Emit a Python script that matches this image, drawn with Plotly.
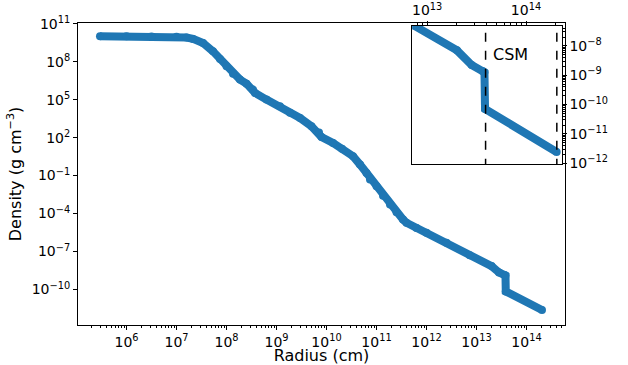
import math
import plotly.graph_objects as go

# density profile
radius = [2.95e5, 1.0e6, 3.16e6, 1.0e7, 1.58e7, 2.14e7, 3.39e7, 5.37e7, 7.41e7, 1.0e8,
          1.35e8, 1.86e8, 2.51e8, 3.39e8, 3.72e8, 6.3e8, 1.17e9, 1.86e9, 2.95e9, 5.0e9,
          7.08e9, 7.94e9, 1.35e10, 2.04e10, 3.39e10, 4.68e10, 6.3e10, 7.41e10, 1.0e11, 1.35e11,
          1.86e11, 2.51e11, 3.39e11, 3.98e11, 6.3e11, 1.0e12, 2.51e12, 7.33e12, 2.0e13, 2.82e13,
          3.63e13, 3.8e13, 3.85e13, 2.04e14]
density = [1.0e10, 1.0e10, 9.8e9, 9.3e9, 7.9e9, 6.2e9, 2.95e9, 6.5e8, 1.62e8, 4.27e7,
           1.12e7, 3.8e6, 1.82e6, 6.2e5, 3.4e5, 1.0e5, 2.95e4, 9.3e3, 3.6e3, 794,
           251, 112, 38, 12.9, 3.4, 0.74, 0.162, 4.9e-2, 1.45e-2, 2.6e-3,
           5.1e-4, 1.26e-4, 3.4e-5, 1.86e-5, 7.1e-6, 3.0e-6, 5.0e-7, 5.0e-8, 7.1e-9, 2.24e-9,
           1.41e-9, 1.26e-9, 7.1e-11, 2.4e-12]

csm_edges = [3.9e13, 2.05e14]

main_x_ticks = [1e6, 1e7, 1e8, 1e9, 1e10, 1e11, 1e12, 1e13, 1e14]
main_y_ticks = [1e11, 1e8, 1e5, 1e2, 1e-1, 1e-4, 1e-7, 1e-10]
inset_x_ticks = [1e13, 1e14]
inset_y_ticks = [1e-8, 1e-9, 1e-10, 1e-11, 1e-12]


def label(v):
    e = round(math.log10(v))
    return '10<sup>' + str(e).replace('-', '\u2212') + '</sup>'


def minors(lo, hi):
    out = []
    for k in range(lo, hi):
        for m in range(2, 10):
            out.append(m * 10.0 ** k)
    return out


blue = '#1f77b4'
fig = go.Figure()

for xa, ya in [('x', 'y'), ('x2', 'y2')]:
    fig.add_trace(go.Scatter(x=radius, y=density, xaxis=xa, yaxis=ya, mode='lines+markers',
                             line=dict(color=blue, width=8),
                             marker=dict(color=blue, size=8),
                             showlegend=False))

for edge in csm_edges:
    fig.add_trace(go.Scatter(x=[edge, edge], y=[1e-14, 1e-5], xaxis='x2', yaxis='y2',
                             mode='lines', line=dict(color='black', width=1.5, dash='dash'),
                             showlegend=False))

axis_common = dict(type='log', showline=True, linecolor='black', linewidth=1,
                   ticks='outside', ticklen=4, tickwidth=1, tickcolor='black',
                   showgrid=False, zeroline=False, tickmode='array', automargin=False,
                   tickfont=dict(size=14, color='black'))

fig.update_layout(
    width=628, height=365,
    margin=dict(l=78, r=63, t=23, b=40),
    plot_bgcolor='white', paper_bgcolor='white',
    font=dict(family='DejaVu Sans', color='black'),
    xaxis=dict(axis_common, range=[5.03, 14.77], mirror=True,
               tickvals=main_x_ticks, ticktext=[label(v) for v in main_x_ticks],
               minor=dict(tickvals=minors(5, 15), ticks='outside', ticklen=2, tickcolor='black'),
               title=dict(text='Radius (cm)', font=dict(size=16), standoff=5)),
    yaxis=dict(axis_common, range=[-12.8, 11.05], mirror=True,
               tickvals=main_y_ticks, ticktext=[label(v) for v in main_y_ticks],
               title=dict(text='Density (g cm<sup>\u22123</sup>)', font=dict(size=16), standoff=6)),
    xaxis2=dict(axis_common, range=[12.85, 14.36], domain=[0.6865, 0.993], anchor='y2',
                side='top', mirror=True,
                tickvals=inset_x_ticks, ticktext=[label(v) for v in inset_x_ticks],
                minor=dict(tickvals=minors(12, 15), ticks='outside', ticklen=2, tickcolor='black')),
    yaxis2=dict(axis_common, range=[-12.03, -7.32], domain=[0.533, 0.99], anchor='x2',
                side='right', mirror=True,
                tickvals=inset_y_ticks, ticktext=[label(v) for v in inset_y_ticks],
                minor=dict(tickvals=minors(-13, -6), ticks='outside', ticklen=2, tickcolor='black')),
)

fig.add_annotation(text='CSM', xref='x2 domain', yref='y2 domain', x=0.66, y=0.88,
                   showarrow=False, font=dict(size=16, color='black'))

# the page body has a default margin that pushes the figure off the window
fig.write_html('out.html', config={'displayModeBar': False},
               post_script="document.body.style.margin='0px';")
